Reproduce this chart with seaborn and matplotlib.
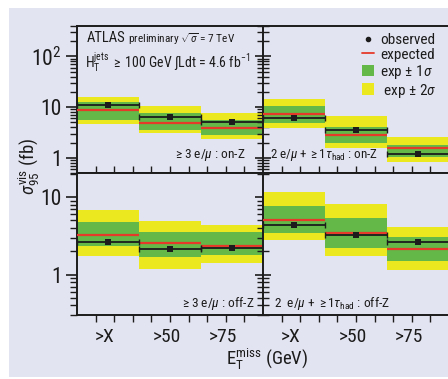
import numpy as np
import pandas as pd
import matplotlib
matplotlib.use("Agg")
import matplotlib.pyplot as plt
import matplotlib.font_manager as fm
from matplotlib.patches import Rectangle, Patch
from matplotlib.lines import Line2D
from matplotlib.ticker import FixedLocator, FixedFormatter, NullFormatter, LogLocator
import seaborn as sns

# ---------------- data ----------------
bins = [">X", ">50", ">75"]
panel_labels = [r"$\geq$3 e/$\mu$ : on-Z",
                r"2 e/$\mu$ + $\geq$1$\tau_{\rm had}$ : on-Z",
                r"$\geq$3 e/$\mu$ : off-Z",
                r"2  e/$\mu$ + $\geq$1$\tau_{\rm had}$ : off-Z"]

obs_3l_onZ = [10.8, 6.3, 5.1]
exp_3l_onZ = [8.85, 4.9, 3.8]
p1_3l_onZ = [12.4, 7.5, 5.5]
m1_3l_onZ = [5.5, 3.6, 2.8]
p2_3l_onZ = [15.8, 10.5, 7.7]
m2_3l_onZ = [4.55, 3.1, 2.4]

obs_tau_onZ = [6.0, 3.5, 1.18]
exp_tau_onZ = [7.3, 2.8, 1.53]
p1_tau_onZ = [10.5, 4.07, 1.77]
m1_tau_onZ = [4.8, 1.92, 1.04]
p2_tau_onZ = [14.4, 6.6, 2.59]
m2_tau_onZ = [3.8, 1.57, 0.83]

obs_3l_offZ = [2.64, 2.12, 2.18]
exp_3l_offZ = [3.2, 2.53, 2.34]
p1_3l_offZ = [4.8, 3.5, 3.5]
m1_3l_offZ = [2.36, 1.69, 1.81]
p2_3l_offZ = [6.9, 4.95, 4.4]
m2_3l_offZ = [1.72, 1.19, 1.42]

obs_tau_offZ = [4.37, 3.2, 2.64]
exp_tau_offZ = [5.0, 3.44, 2.16]
p1_tau_offZ = [7.7, 5.37, 3.05]
m1_tau_offZ = [3.4, 2.21, 1.51]
p2_tau_offZ = [11.5, 8.1, 4.1]
m2_tau_offZ = [2.76, 1.72, 1.13]

panels = [
    (obs_3l_onZ, exp_3l_onZ, p1_3l_onZ, m1_3l_onZ, p2_3l_onZ, m2_3l_onZ),
    (obs_tau_onZ, exp_tau_onZ, p1_tau_onZ, m1_tau_onZ, p2_tau_onZ, m2_tau_onZ),
    (obs_3l_offZ, exp_3l_offZ, p1_3l_offZ, m1_3l_offZ, p2_3l_offZ, m2_3l_offZ),
    (obs_tau_offZ, exp_tau_offZ, p1_tau_offZ, m1_tau_offZ, p2_tau_offZ, m2_tau_offZ),
]

# ---------------- style ----------------
sns.set_theme(style="ticks")
names = {f.name for f in fm.fontManager.ttflist}
FAM = "Liberation Sans"
for cand in ["Roboto Condensed", "Liberation Sans Narrow", "Liberation Sans"]:
    if cand in names:
        FAM = cand
        break
plt.rcParams["font.family"] = [FAM, "DejaVu Sans"]
plt.rcParams["mathtext.fontset"] = "custom"
plt.rcParams["mathtext.rm"] = FAM
plt.rcParams["mathtext.it"] = FAM + ":italic"
plt.rcParams["mathtext.sf"] = FAM

BG = "#e3e4f1"
YEL = "#ece81f"
GRN = "#63b848"
RED = "#e53a2a"
INK = "#1c1c1c"

W, H = 448, 379
fig = plt.figure(figsize=(W / 100, H / 100), dpi=100, facecolor="white")
fig.patches.append(Rectangle((9 / W, 1 - 377 / H), (W - 9) / W, (377 - 8) / H,
                             transform=fig.transFigure, facecolor=BG,
                             edgecolor="none", zorder=-10))


def rect(x0, y0, x1, y1):
    return [x0 / W, 1 - y1 / H, (x1 - x0) / W, (y1 - y0) / H]


boxes = [rect(77, 26, 263, 173), rect(263, 26, 449, 173),
         rect(77, 173, 263, 315), rect(263, 173, 449, 315)]
ylims = [(0.5, 400), (0.5, 400), (0.3, 20.5), (0.3, 20.5)]

edges = np.array([0, 10 / 3, 20 / 3, 10])
centers = (edges[:-1] + edges[1:]) / 2
width = 10 / 3

for i, (box, (obs, exp, p1, m1, p2, m2)) in enumerate(zip(boxes, panels)):
    ax = fig.add_axes(box)
    ax.set_facecolor(BG)
    ax.set_yscale("log")
    df = pd.DataFrame({"x": centers, "obs": obs, "exp": exp,
                       "p1": p1, "m1": m1, "p2": p2, "m2": m2})
    ax.bar(df["x"], df["p2"] - df["m2"], bottom=df["m2"], width=width,
           color=YEL, edgecolor="none", zorder=1)
    ax.bar(df["x"], df["p1"] - df["m1"], bottom=df["m1"], width=width,
           color=GRN, edgecolor="none", zorder=2)
    ax.hlines(df["exp"], df["x"] - width / 2, df["x"] + width / 2,
              color=RED, lw=1.6, zorder=3)
    ax.errorbar(df["x"], df["obs"], xerr=width / 2, fmt="none",
                ecolor=INK, elinewidth=1.3, capsize=2, capthick=1.0, zorder=4)
    sns.scatterplot(data=df, x="x", y="obs", ax=ax, marker="s", s=14,
                    color=INK, edgecolor=INK, linewidth=0, zorder=5)
    ax.set_xlim(0, 10)
    ax.set_ylim(*ylims[i])
    ax.set_xlabel("")
    ax.set_ylabel("")

    for s in ax.spines.values():
        s.set_color(INK)
        s.set_linewidth(1.4)
    ax.spines["right"].set_visible(i % 2 == 1)

    # x ticks
    ax.xaxis.set_major_locator(FixedLocator([1.5, 4.85, 7.85]))
    ax.xaxis.set_minor_locator(FixedLocator(list(range(1, 10))))
    if i < 2:
        ax.xaxis.set_major_formatter(NullFormatter())
        ax.tick_params(axis="x", which="major", length=0)
        ax.tick_params(axis="x", which="minor", direction="in", length=5,
                       width=1.0, color=INK, bottom=True, top=False)
    else:
        ax.xaxis.set_major_formatter(FixedFormatter(bins))
        ax.tick_params(axis="x", which="major", length=0, labelsize=14,
                       pad=9, labelcolor=INK)
        ax.tick_params(axis="x", which="minor", direction="out", length=5,
                       width=1.0, color=INK, bottom=True, top=False)

    # y ticks
    if i < 2:
        majors = [1, 10, 100]
        mlabels = ["1", "10", "10$^2$"]
    else:
        majors = [1, 10]
        mlabels = ["1", "10"]
    ax.yaxis.set_major_locator(FixedLocator(majors))
    ax.yaxis.set_minor_locator(LogLocator(base=10, subs=np.arange(2, 10), numticks=20))
    ax.yaxis.set_minor_formatter(NullFormatter())
    if i % 2 == 0:
        ax.yaxis.set_major_formatter(FixedFormatter(mlabels))
        ax.tick_params(axis="y", which="major", direction="out", length=8,
                       width=1.2, color=INK, labelsize=15.5, pad=3,
                       labelcolor=INK, left=True, right=False)
        ax.tick_params(axis="y", which="minor", direction="out", length=5,
                       width=1.0, color=INK, left=True, right=False)
    else:
        ax.yaxis.set_major_formatter(NullFormatter())
        ax.tick_params(axis="y", which="major", direction="inout", length=12,
                       width=1.2, color=INK, left=True, right=False)
        ax.tick_params(axis="y", which="minor", direction="inout", length=8,
                       width=1.0, color=INK, left=True, right=False)

    # panel label
    if i % 2 == 0:
        xr = {0: 246, 2: 255}[i]
        yc = {0: 155, 2: 303}[i]
        fig.text(xr / W, 1 - yc / H, panel_labels[i], ha="right", va="center",
                 fontsize=9.6, color=INK)
    else:
        xl = {1: 270, 3: 274}[i]
        yc = {1: 155, 3: 304}[i]
        fig.text(xl / W, 1 - yc / H, panel_labels[i], ha="left", va="center",
                 fontsize=9.4 if i == 1 else 9.6, color=INK)

# header text
fig.text(87 / W, 1 - 38 / H, "ATLAS", fontsize=10.5, color=INK, ha="left", va="center")
fig.text(128 / W, 1 - 39 / H, r"preliminary $\sqrt{\sigma}$ = 7 TeV", fontsize=8.2,
         color=INK, ha="left", va="center")
fig.text(85 / W, 1 - 62 / H,
         r"H$_{\rm T}^{\rm jets}$ $\geq$ 100 GeV $\int$Ldt = 4.6 fb$^{-1}$",
         fontsize=10, color=INK, ha="left", va="center")

# axis labels
fig.text(29 / W, 1 - 166 / H, r"$\sigma_{95}^{\rm vis}$ (fb)", rotation=90,
         fontsize=13.5, color=INK, ha="center", va="center")
fig.text(267 / W, 1 - 359 / H, r"E$_{\rm T}^{\rm miss}$ (GeV)",
         fontsize=13.5, color=INK, ha="center", va="center")

# legend
handles = [Line2D([], [], marker="o", ls="none", color=INK, ms=3),
           Line2D([], [], color=RED, lw=1.3),
           Patch(facecolor=GRN, edgecolor="none"),
           Patch(facecolor=YEL, edgecolor="none")]
labels = ["observed", "expected", r"exp $\pm$ 1$\sigma$", r" exp $\pm$ 2$\sigma$"]
fig.legend(handles, labels, loc="upper left",
           bbox_to_anchor=(362 / W, 1 - 33 / H), frameon=False, fontsize=11,
           handlelength=0.8, handleheight=0.8, handletextpad=0.4,
           labelspacing=0.05, borderaxespad=0, borderpad=0,
           labelcolor=INK)

fig.savefig("out.png", dpi=100, facecolor="white")
